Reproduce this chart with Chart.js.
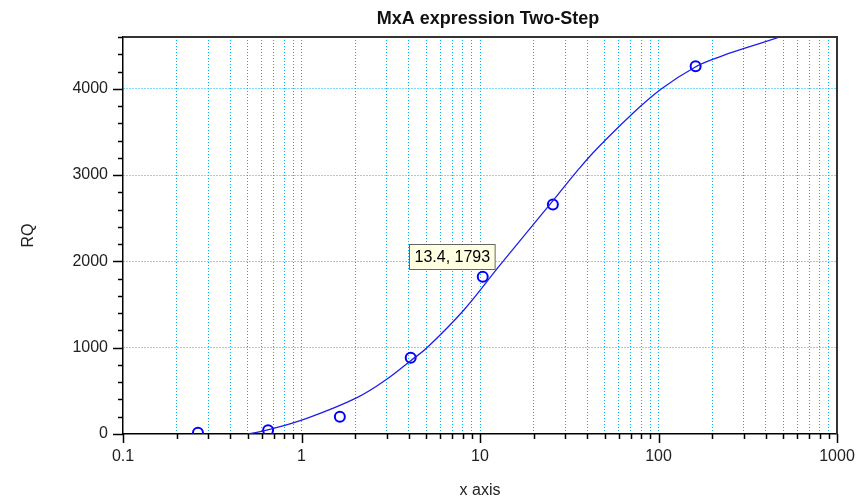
<!DOCTYPE html>
<html>
<head>
  <meta charset="UTF-8" />
  <title>MxA expression Two-Step</title>
  <script src="https://cdn.jsdelivr.net/npm/chart.js"></script>
  <style>
    body { margin: 0; background: #fff; }
    #wrap { width: 858px; height: 501px; }
  </style>
</head>
<body>
  <div id="wrap"><canvas id="mxaChart" width="858" height="501"></canvas></div>

  <script>
    // gemessene Punkte
    const sampleX = [0.263, 0.65, 1.64, 4.09, 10.36, 25.6, 161.4];
    const sampleY = [14, 44, 199, 883, 1821, 2659, 4262];

    // Fit-Kurve
    const curveX = [0.50, 0.655, 1.08, 2.06, 3.03, 4.09, 5.08, 8.17, 12.8, 25.1, 36.1, 44.9, 70.5, 104, 160, 220, 305, 470];
    const curveY = [0, 50, 185, 425, 640, 850, 1005, 1443, 1945, 2680, 3080, 3300, 3700, 4000, 4250, 4370, 4470, 4595];

    // Achsen
    const xDecades = [0.1, 1, 10, 100, 1000];
    const xDecadeLabels = ['0.1', '1', '10', '100', '1000'];
    const yMajor = [0, 1000, 2000, 3000, 4000];
    const yMax = 4600;
    const yMinorStep = 200;

    // Hinweisbox
    const hintPoint = [13.4, 1793];
    const hintText = '13.4, 1793';

    const FONT = '"Liberation Sans", Arial, sans-serif';
    const GRID = 'rgb(0, 178, 245)';

    // 0.1, 0.2 ... 0.9, 1, 2 ... 1000
    const xTickValues = [];
    xDecades.forEach((d, i) => {
      if (i === xDecades.length - 1) { xTickValues.push(d); return; }
      for (let m = 1; m <= 9; m++) xTickValues.push(+(d * m).toPrecision(3));
    });

    const isDecade = v => xDecades.some(d => Math.abs(d - v) < 1e-9);

    const extras = {
      id: 'extras',
      afterDraw(chart) {
        const c = chart.ctx;
        const a = chart.chartArea;
        const xs = chart.scales.x, ys = chart.scales.y;
        c.save();

        // Rahmen oben / rechts
        c.strokeStyle = '#333';
        c.lineWidth = 2;
        c.beginPath();
        c.moveTo(a.left, a.top);
        c.lineTo(a.right, a.top);
        c.lineTo(a.right, a.bottom);
        c.stroke();

        // Teilstriche
        c.strokeStyle = '#000';
        c.lineWidth = 1.5;
        c.beginPath();
        xTickValues.forEach(v => {
          const px = Math.round(xs.getPixelForValue(v)) + 0.5;
          c.moveTo(px, a.bottom);
          c.lineTo(px, a.bottom + (isDecade(v) ? 9 : 5));
        });
        for (let v = 0; v <= yMax; v += yMinorStep) {
          const py = Math.round(ys.getPixelForValue(v)) + 0.5;
          c.moveTo(a.left, py);
          c.lineTo(a.left - (yMajor.includes(v) ? 10 : 5), py);
        }
        c.stroke();

        // Titel
        c.fillStyle = '#111';
        c.font = 'bold 18px ' + FONT;
        c.textAlign = 'center';
        c.textBaseline = 'middle';
        c.fillText('MxA expression Two-Step', 488, 19);

        // Hinweisbox
        const hx = xs.getPixelForValue(hintPoint[0]);
        const hy = ys.getPixelForValue(hintPoint[1]);
        c.font = '16px ' + FONT;
        const w = c.measureText(hintText).width + 10;
        const h = 25;
        const bx = Math.round(hx - 8 - w) + 0.5, by = Math.round(hy - 10 - h) + 0.5;
        c.fillStyle = '#ffffe1';
        c.fillRect(bx, by, w, h);
        c.strokeStyle = '#666';
        c.lineWidth = 1;
        c.strokeRect(bx, by, w, h);
        c.fillStyle = '#000';
        c.textAlign = 'left';
        c.fillText(hintText, bx + 5, by + h / 2 + 1);

        c.restore();
      }
    };

    new Chart(document.getElementById('mxaChart'), {
      type: 'scatter',
      data: {
        datasets: [
          {
            label: 'Fit',
            data: curveX.map((x, i) => ({ x, y: curveY[i] })),
            showLine: true,
            borderColor: 'rgb(30, 30, 235)',
            borderWidth: 1.3,
            pointRadius: 0,
            tension: 0.4,
            fill: false,
          },
          {
            label: 'RQ',
            data: sampleX.map((x, i) => ({ x, y: sampleY[i] })),
            borderColor: 'rgb(0, 0, 255)',
            backgroundColor: 'rgba(0,0,0,0)',
            pointRadius: 5,
            pointBorderWidth: 2,
          }
        ]
      },
      options: {
        responsive: false,
        animation: false,
        layout: { padding: { top: 37, right: 21, left: 0, bottom: 0 } },
        plugins: {
          legend: { display: false },
          tooltip: { enabled: false },
          title: { display: false }
        },
        scales: {
          x: {
            type: 'logarithmic',
            min: 0.1,
            max: 1000,
            afterBuildTicks: s => { s.ticks = xTickValues.map(v => ({ value: v, major: isDecade(v) })); },
            afterFit: s => { s.height = 67; s.paddingLeft = 0; s.paddingRight = 0; },
            ticks: {
              autoSkip: false,
              maxRotation: 0,
              padding: 13,
              color: '#222',
              font: { family: FONT, size: 16 },
              callback: v => {
                const i = xDecades.findIndex(d => Math.abs(d - v) < 1e-9);
                return i >= 0 ? xDecadeLabels[i] : '';
              }
            },
            grid: {
              drawTicks: false,
              lineWidth: 1,
              color: c => (c.tick && (c.tick.value === 0.1 || c.tick.value === 1000)) ? 'rgba(0,0,0,0)' : GRID
            },
            border: { display: true, color: '#000', width: 1.5, dash: [1, 2] },
            title: {
              display: true,
              text: 'x axis',
              color: '#222',
              font: { family: FONT, size: 16 },
              padding: { top: 0, bottom: 1 }
            }
          },
          y: {
            min: 0,
            max: yMax,
            afterFit: s => { s.width = 123; s.paddingTop = 0; s.paddingBottom = 0; },
            ticks: {
              stepSize: yMinorStep,
              autoSkip: false,
              padding: 15,
              color: '#222',
              font: { family: FONT, size: 16 },
              callback: v => yMajor.includes(v) ? String(v) : ''
            },
            grid: {
              drawTicks: false,
              lineWidth: 1,
              color: c => (c.tick && c.tick.value !== 0 && yMajor.includes(c.tick.value)) ? GRID : 'rgba(0,0,0,0)'
            },
            border: { display: true, color: '#000', width: 1.5, dash: [1, 2] },
            title: {
              display: true,
              text: 'RQ',
              color: '#222',
              font: { family: FONT, size: 16 },
              padding: { top: 19, bottom: 0 }
            }
          }
        }
      },
      plugins: [extras]
    });
  </script>
</body>
</html>
